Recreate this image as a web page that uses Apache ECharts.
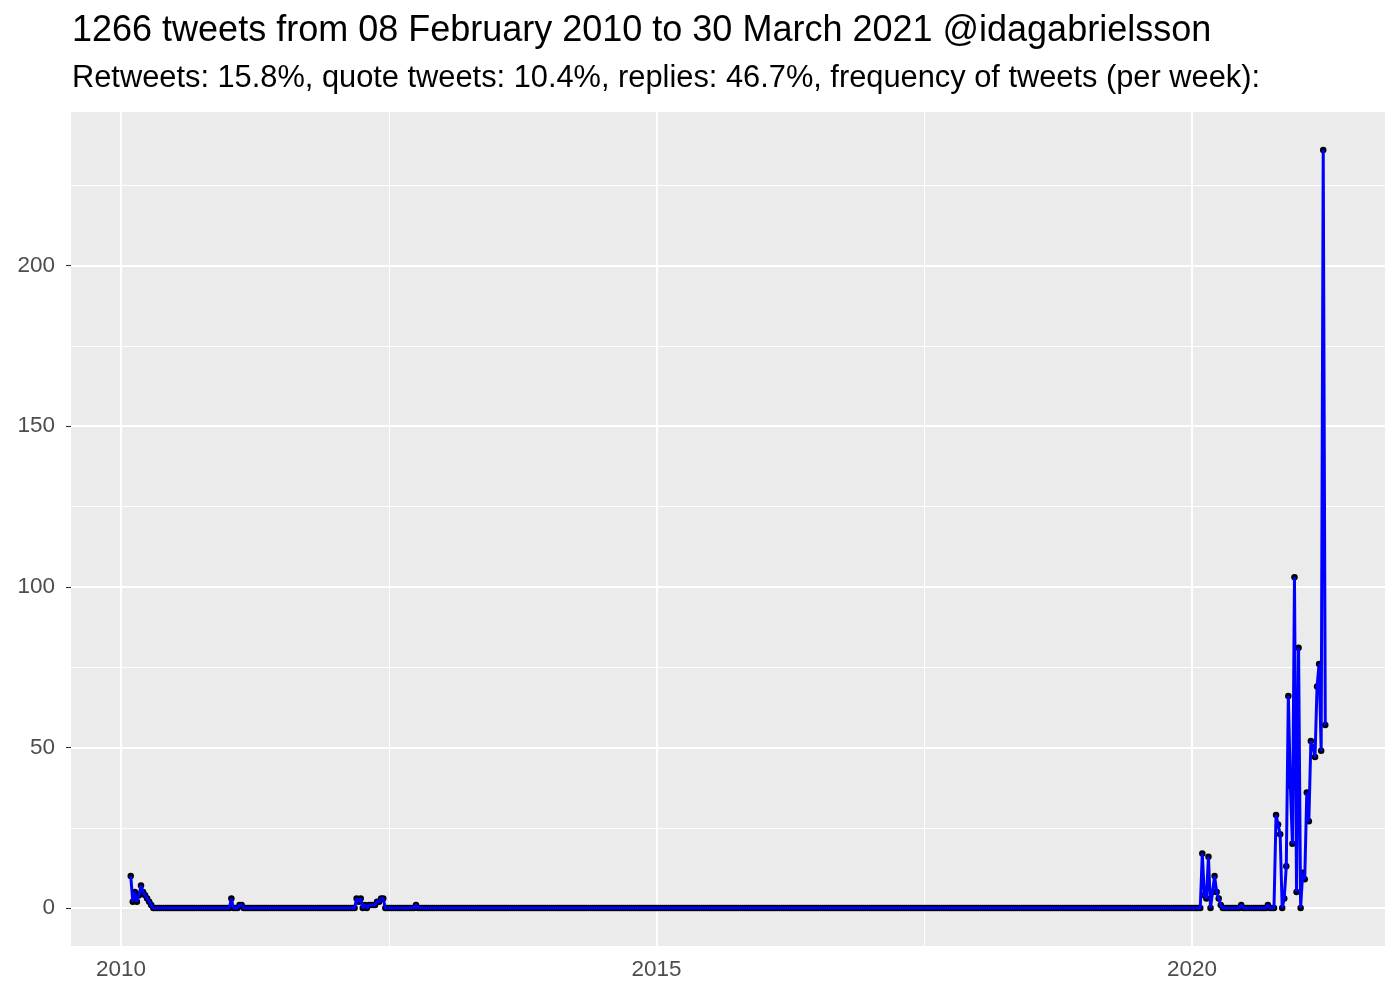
<!DOCTYPE html>
<html>
<head>
<meta charset="utf-8">
<title>tweets per week</title>
<script src="https://cdn.jsdelivr.net/npm/echarts@6/dist/echarts.min.js"></script>
<style>
  html, body { margin: 0; padding: 0; background: #fff; }
  #chart { width: 1400px; height: 1000px; }
</style>
</head>
<body>
<div id="chart"></div>
<script>
// weekly bins, first bin 2010-02-03, last bin 2021-03-31
const firstWeek = [2010, 1, 3]
const weekCount = 583
// every week not listed in a run had 0 tweets
const runStarts = [0, 49, 53, 110, 139, 522, 541, 554]
const runTweets = [
  [10, 2, 5, 2, 4, 7, 5, 4, 3, 2, 1],
  [3],
  [1, 1],
  [3, 2, 3, 0, 1, 0, 1, 1, 1, 1, 2, 2, 3, 3],
  [1],
  [17, 4, 3, 16, 0, 5, 10, 5, 3, 1],
  [1],
  [1, 0, 0, 0, 29, 26, 23, 0, 3, 13, 66, 38, 20, 103, 5, 81, 0, 11, 9, 36, 27, 52, 50, 47, 69, 76, 49, 236, 57],
]
const xMajor = [2010, 2015, 2020]
const xMinor = [2012.5, 2017.5]
const yMajor = [0, 50, 100, 150, 200]
const yMinor = [25, 75, 125, 175, 225]

const titleText = '1266 tweets from 08 February 2010 to 30 March 2021 @idagabrielsson'
const subText = 'Retweets: 15.8%, quote tweets: 10.4%, replies: 46.7%, frequency of tweets (per week):'

const DAY = 86400000
const t0 = Date.UTC(...firstWeek)

function decimalYear(t) {
  const y = new Date(t).getUTCFullYear()
  const a = Date.UTC(y, 0, 1), b = Date.UTC(y + 1, 0, 1)
  return y + (t - a) / (b - a)
}

const counts = new Array(weekCount).fill(0)
runStarts.forEach((s, i) => runTweets[i].forEach((v, j) => { counts[s + j] = v }))
const points = counts.map((v, k) => [decimalYear(t0 + k * 7 * DAY), v])

const xs = points.map(p => p[0]), ys = points.map(p => p[1])
const xLo = Math.min(...xs), xHi = Math.max(...xs)
const yLo = Math.min(...ys), yHi = Math.max(...ys)
const xPad = (xHi - xLo) * 0.05, yPad = (yHi - yLo) * 0.05

const FONT = "'Liberation Sans', Arial, Helvetica, sans-serif"
const gridLine = (w) => ({ color: '#ffffff', width: w, type: 'solid', opacity: 1 })

const option = {
  animation: false,
  backgroundColor: '#ffffff',
  title: {
    text: titleText, subtext: subText,
    left: 67, top: 8, itemGap: 14,
    textStyle: { fontFamily: FONT, fontSize: 36, fontWeight: 'normal', color: '#000' },
    subtextStyle: { fontFamily: FONT, fontSize: 30.8, color: '#000' },
  },
  grid: { left: 71, right: 15, top: 112, bottom: 54, show: true, backgroundColor: '#EBEBEB', borderWidth: 0 },
  xAxis: {
    type: 'value', min: xLo - xPad, max: xHi + xPad,
    axisLine: { show: false },
    axisTick: { show: true, length: 5, lineStyle: { color: '#333333', width: 1.1 }, customValues: xMajor },
    axisLabel: { color: '#4D4D4D', fontFamily: FONT, fontSize: 22.5, margin: 12, customValues: xMajor, formatter: v => String(v) },
    splitLine: { show: false },
  },
  yAxis: {
    type: 'value', min: yLo - yPad, max: yHi + yPad,
    axisLine: { show: false },
    axisTick: { show: true, length: 5, lineStyle: { color: '#333333', width: 1.1 }, customValues: yMajor },
    axisLabel: { color: '#4D4D4D', fontFamily: FONT, fontSize: 22.5, margin: 16, customValues: yMajor },
    splitLine: { show: false },
  },
  series: [
    { // panel grid lines
      type: 'line', data: points, silent: true, showSymbol: false, z: 1,
      lineStyle: { opacity: 0 },
      markLine: {
        silent: true, symbol: ['none', 'none'], label: { show: false }, animation: false,
        data: [
          ...xMinor.map(v => ({ xAxis: v, lineStyle: gridLine(1) })),
          ...yMinor.map(v => ({ yAxis: v, lineStyle: gridLine(1) })),
          ...xMajor.map(v => ({ xAxis: v, lineStyle: gridLine(2) })),
          ...yMajor.map(v => ({ yAxis: v, lineStyle: gridLine(2) })),
        ],
      },
    },
    {
      type: 'scatter', data: points, symbolSize: 6.5, zlevel: 1, z: 2, silent: true,
      itemStyle: { color: '#000000', opacity: 1 },
    },
    {
      type: 'line', data: points, showSymbol: false, zlevel: 1, z: 3, silent: true,
      lineStyle: { color: '#0000FF', width: 3 },
    },
  ],
}

const chart = echarts.init(document.getElementById('chart'), null, { renderer: 'canvas' })
chart.setOption(option)
</script>
</body>
</html>
